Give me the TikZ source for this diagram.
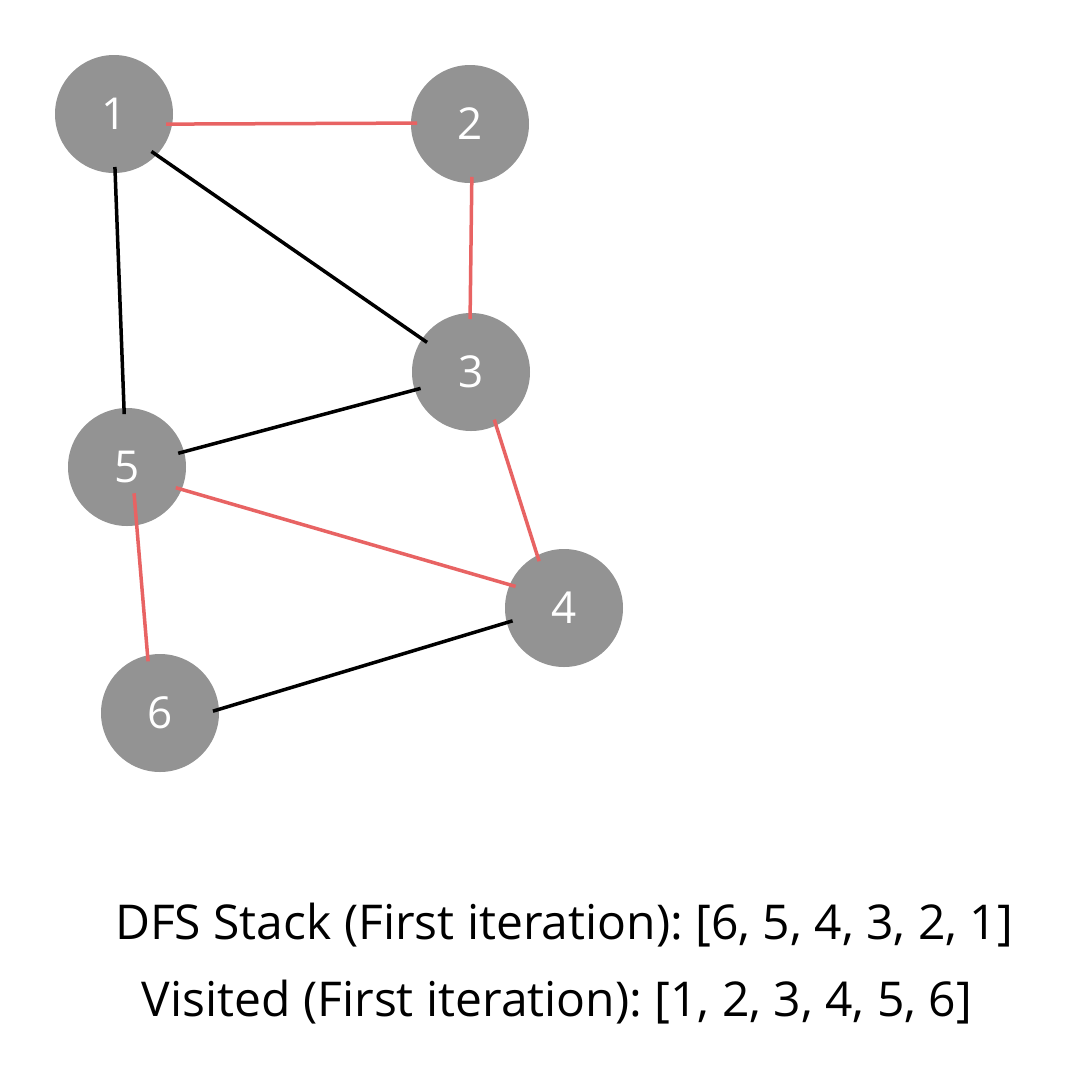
\documentclass[tikz,border=0pt]{standalone}
\usepackage{fontspec}
\setmainfont{Open Sans}
\frenchspacing
\definecolor{vertexgray}{HTML}{939393}
\definecolor{visitred}{HTML}{E86363}
\begin{document}
\begin{tikzpicture}[x=1pt,y=-1pt]
    \tikzset{
        vertex/.style={circle,fill=vertexgray,minimum size=118pt,inner sep=0pt,outer sep=-6pt,
            text=white,font=\fontsize{44}{44}\selectfont},
        edge/.style={line width=3.5pt,black},
        tree edge/.style={line width=3.5pt,visitred},
        caption/.style={anchor=base,inner sep=0pt,font=\fontsize{48}{48}\selectfont},}
    \useasboundingbox[fill=white] (0,0) rectangle (1080,1080);
    \node[vertex] (v1) at (114,114) {1};
    \node[vertex] (v2) at (470,124) {2};
    \node[vertex] (v3) at (471,372) {3};
    \node[vertex] (v5) at (127,467) {5};
    \node[vertex] (v4) at (564,608) {4};
    \node[vertex] (v6) at (160,713) {6};
    % edges not taken by the search
    \draw[edge] (v1.-45) -- (v3.146);
    \draw[edge] (v1.-89) -- (v5.93);
    \draw[edge] (v3.198) -- (v5.15);
    \draw[edge] (v6.2) -- (v4.-166);
    % edges of the search
    \draw[tree edge] (v1.-11) -- (v2.179);
    \draw[tree edge] (v2.-88) -- (v3.91);
    \draw[tree edge] (v3.-64) -- (v4.118);
    \draw[tree edge] (v5.-23) -- (v4.156);
    \draw[tree edge,shorten <=-26pt] (v5.-80) -- (v6.103);
    \node[caption] (stack) at (564,939) {DFS Stack (First iteration): [6, 5, 4, 3, 2, 1]};
    \node[caption] (visited) at (557,1016) {Visited (First iteration): [1, 2, 3, 4, 5, 6]};
\end{tikzpicture}
\end{document}
